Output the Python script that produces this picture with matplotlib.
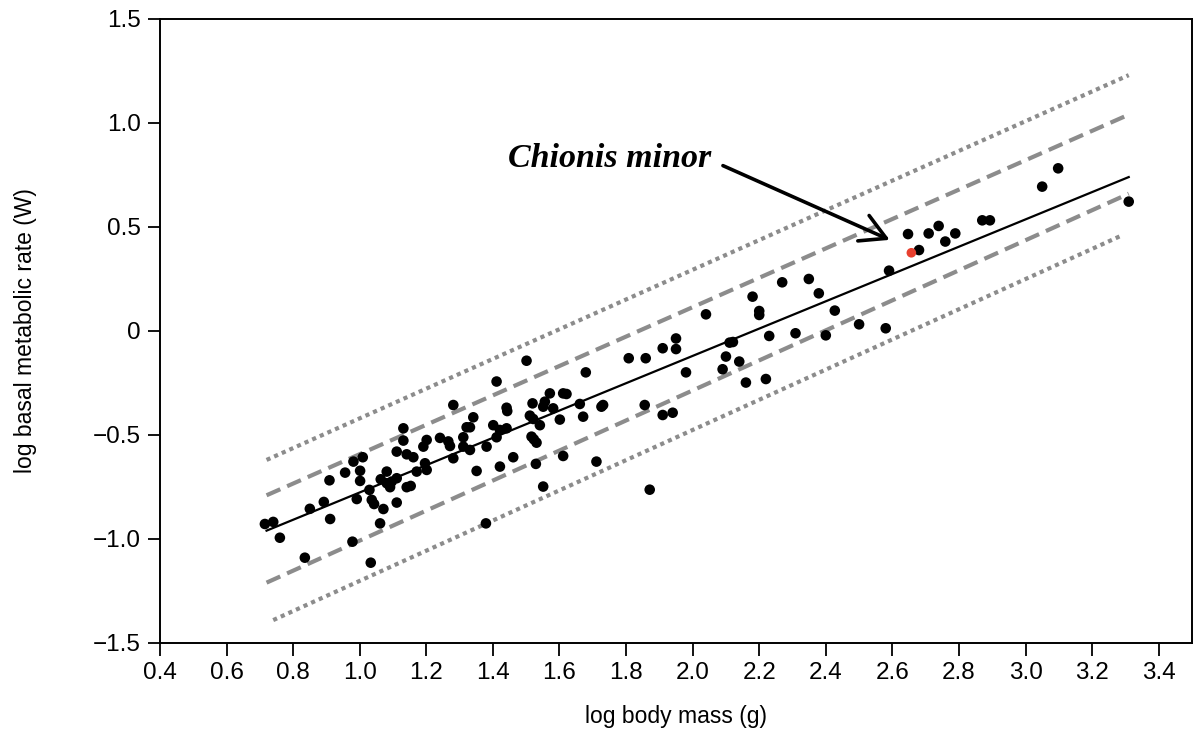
import matplotlib
matplotlib.use("Agg")
import matplotlib.pyplot as plt
from matplotlib.ticker import FixedLocator, FixedFormatter

# puntos (log masa, log BMR)
mass = [
    0.715, 0.740, 0.760, 0.835, 0.850, 0.892, 0.911, 0.909, 0.956, 0.981,
    1.009, 1.001, 1.001, 0.991, 0.978, 1.033, 1.029, 1.036, 1.043, 1.061,
    1.071, 1.063, 1.081, 1.081, 1.096, 1.111, 1.091, 1.111, 1.111, 1.131,
    1.131, 1.141, 1.161, 1.141, 1.153, 1.171, 1.191, 1.201, 1.196, 1.201,
    1.241,
    1.501, 1.411, 1.679, 1.808, 1.281, 1.341, 1.441, 1.443, 1.519, 1.556,
    1.551, 1.571, 1.611, 1.621, 1.581, 1.601, 1.661, 1.671, 1.726, 1.731,
    1.511, 1.521, 1.541, 1.516, 1.523, 1.531, 1.401, 1.421, 1.441, 1.411,
    1.381, 1.321, 1.331, 1.311, 1.266, 1.271, 1.311, 1.331, 1.281, 1.351,
    1.421, 1.461, 1.529, 1.611, 1.711, 1.551, 1.379,
    2.269, 2.349, 2.379, 2.180, 2.200, 2.200, 2.040, 2.230, 2.309, 2.111,
    2.121, 2.100, 2.140, 2.090, 2.160, 2.220, 1.980, 1.950, 1.950, 1.910,
    1.859, 1.856, 1.910, 1.940, 1.871,
    2.647, 2.680, 2.709, 2.739, 2.759, 2.789, 2.870, 2.893, 2.590, 2.427,
    2.500, 2.580, 2.400, 3.098, 3.050, 3.310,
]
bmr = [
    -0.928, -0.918, -0.994, -1.090, -0.855, -0.822, -0.904, -0.718, -0.681, -0.628,
    -0.607, -0.672, -0.721, -0.808, -1.013, -1.114, -0.764, -0.812, -0.832, -0.925,
    -0.856, -0.713, -0.676, -0.732, -0.724, -0.708, -0.751, -0.825, -0.580, -0.468,
    -0.527, -0.593, -0.607, -0.751, -0.745, -0.676, -0.556, -0.524, -0.636, -0.668,
    -0.514,
    -0.143, -0.243, -0.199, -0.131, -0.356, -0.415, -0.369, -0.385, -0.348, -0.340,
    -0.364, -0.300, -0.300, -0.303, -0.372, -0.426, -0.351, -0.412, -0.364, -0.356,
    -0.407, -0.423, -0.453, -0.508, -0.521, -0.537, -0.453, -0.476, -0.468, -0.511,
    -0.556, -0.463, -0.463, -0.511, -0.531, -0.553, -0.556, -0.572, -0.612, -0.673,
    -0.652, -0.607, -0.639, -0.601, -0.628, -0.748, -0.925,
    0.234, 0.250, 0.181, 0.165, 0.096, 0.077, 0.080, -0.024, -0.011, -0.056,
    -0.053, -0.123, -0.147, -0.184, -0.248, -0.231, -0.199, -0.036, -0.087, -0.083,
    -0.131, -0.356, -0.404, -0.393, -0.763,
    0.466, 0.389, 0.469, 0.505, 0.430, 0.469, 0.532, 0.532, 0.290, 0.098,
    0.032, 0.013, -0.021, 0.782, 0.694, 0.622,
]

# Chionis minor
chionis_mass = [2.657]
chionis_bmr = [0.376]

# recta de regresion e intervalos (extremos)
line_x = [0.72, 3.31]
fit_y = [-0.96, 0.74]
dash_hi = [-0.79, 1.04]
dash_lo = [-1.21, 0.66]
dot_hi = [-0.62, 1.23]
dot_lo_x = [0.74, 3.29]
dot_lo = [-1.39, 0.46]

xticks = [0.4, 0.6, 0.8, 1.0, 1.2, 1.4, 1.6, 1.8, 2.0, 2.2, 2.4, 2.6, 2.8, 3.0, 3.2, 3.4]
xtick_labels = ["0.4", "0.6", "0.8", "1.0", "1.2", "1.4", "1.6", "1.8", "2.0",
                "2.2", "2.4", "2.6", "2.8", "3.0", "3.2", "3.4"]
yticks = [-1.5, -1.0, -0.5, 0, 0.5, 1.0, 1.5]
ytick_labels = ["\u22121.5", "\u22121.0", "\u22120.5", "0", "0.5", "1.0", "1.5"]

plt.rcParams["font.family"] = ["Liberation Sans", "DejaVu Sans"]

fig = plt.figure(figsize=(11.97, 7.36), dpi=100)
ax = fig.add_axes([0.1337, 0.1264, 0.8621, 0.8478])

gris = "#8c8c8c"
ax.plot(line_x, dot_hi, color=gris, lw=3, dashes=(1, 1))
ax.plot(dot_lo_x, dot_lo, color=gris, lw=3, dashes=(1, 1))
ax.plot(line_x, dash_hi, color=gris, lw=3, dashes=(3.6, 1.8))
ax.plot(line_x, dash_lo, color=gris, lw=3, dashes=(3.6, 1.8))
ax.plot(line_x, fit_y, color="black", lw=1.6)

ax.scatter(mass, bmr, s=58, c="black", edgecolors="none", zorder=3)
ax.scatter(chionis_mass, chionis_bmr, s=48, c="#e8402f", edgecolors="none", zorder=4)

ax.text(1.445, 0.788, "Chionis minor", family=["Liberation Serif", "DejaVu Serif"],
        fontsize=24.5, fontweight="bold", fontstyle="italic", ha="left", va="baseline")
ax.annotate("", xy=(2.592, 0.438), xytext=(2.091, 0.795),
            arrowprops=dict(arrowstyle="->,head_length=0.9,head_width=0.5",
                            lw=2.6, color="black", mutation_scale=20,
                            shrinkA=0, shrinkB=0))

ax.set_xlim(0.4, 3.5)
ax.set_ylim(-1.5, 1.5)
ax.xaxis.set_major_locator(FixedLocator(xticks))
ax.xaxis.set_major_formatter(FixedFormatter(xtick_labels))
ax.yaxis.set_major_locator(FixedLocator(yticks))
ax.yaxis.set_major_formatter(FixedFormatter(ytick_labels))
ax.tick_params(direction="out", length=9, width=1.3, labelsize=17.5, pad=5)
for sp in ax.spines.values():
    sp.set_linewidth(1.4)

ax.set_xlabel("log body mass (g)", fontsize=16.5, labelpad=15)
ax.set_ylabel("log basal metabolic rate (W)", fontsize=16.5, labelpad=40)

fig.savefig("out.png", dpi=100)
